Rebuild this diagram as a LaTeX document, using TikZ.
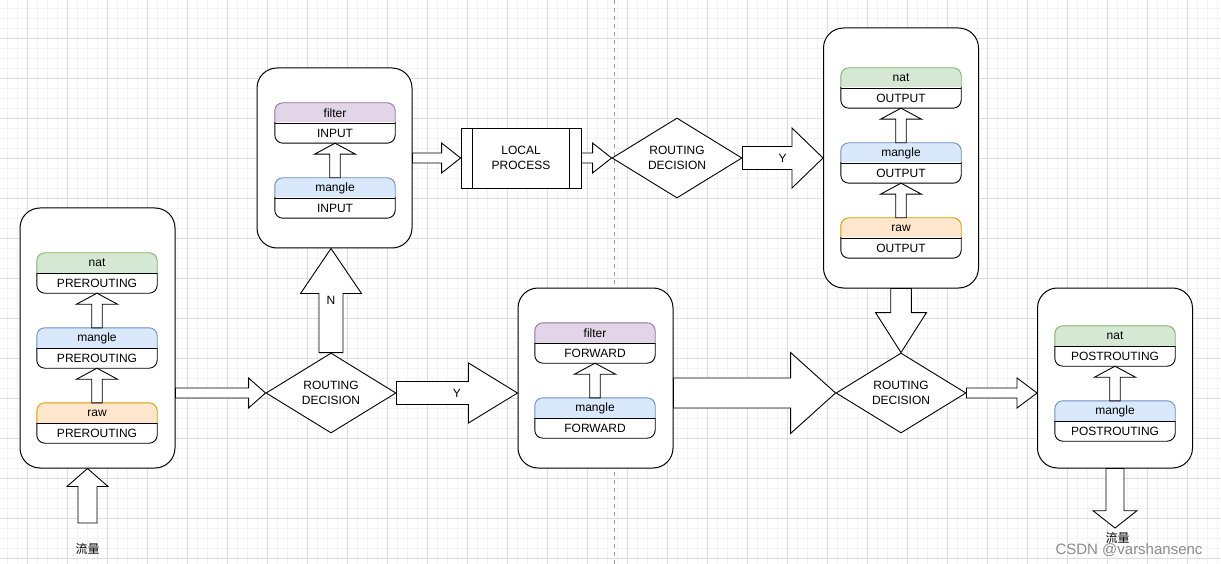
\documentclass[tikz,border=0pt]{standalone}
\usepackage{fontspec}
\setmainfont{Liberation Sans}
\newfontfamily\cjkfont{Noto Sans CJK SC}
\usetikzlibrary{calc,shapes.geometric}
\definecolor{gridminor}{HTML}{F3F3F3}
\definecolor{gridmajor}{HTML}{DDDDDD}
\definecolor{natfill}{HTML}{D5E8D4}\definecolor{natline}{HTML}{82B366}
\definecolor{manfill}{HTML}{DAE8FC}\definecolor{manline}{HTML}{6C8EBF}
\definecolor{rawfill}{HTML}{FFE6CC}\definecolor{rawline}{HTML}{D79B00}
\definecolor{filfill}{HTML}{E1D5E7}\definecolor{filline}{HTML}{9673A6}

\tikzset{
 every node/.style={font=\fontsize{12}{15}\selectfont, text=black},
 hostbox/.style={draw, fill=white, rounded corners=20pt, line width=1pt, minimum width=155pt, inner sep=0pt},
 decbox/.style={diamond, draw, fill=white, aspect=1.625, minimum width=130pt, minimum height=80pt, inner sep=0pt, align=center, line width=0.9pt},
 procbox/.style={draw, fill=white, minimum width=120pt, minimum height=60pt, inner sep=0pt, align=center, line width=0.9pt},
 blk/.style={draw=black, fill=white, line width=0.9pt, line join=miter},
 tblnode/.style={minimum width=120pt, minimum height=40pt, inner sep=0pt},
 trafficlabel/.style={font=\cjkfont\fontsize{12}{15}\selectfont, inner sep=0pt, text height=10.5pt, text depth=0.5pt, anchor=base},
}

% block arrow: #1 start, #2 tip, #3 half shaft, #4 half head, #5 head length
\newcommand\barrow[5]{%
  \coordinate (hb) at ($#2!#5!#1$);
  \draw[blk] ($#1!#3!90:#2$) -- ($(hb)!#3!90:#2$) -- ($(hb)!#4!90:#2$) -- #2
    -- ($(hb)!#4!-90:#2$) -- ($(hb)!#3!-90:#2$) -- ($#1!#3!-90:#2$) -- cycle;
}

% chain table: #1 name, #2 x, #3 top y, #4 header, #5 body, #6 colour prefix
\newcommand\chaintbl[6]{%
  \node[tblnode] (#1) at (#2,#3+20) {};
  \begin{scope}
    \clip ([xshift=-2pt,yshift=2pt]#1.north west) rectangle ([xshift=2pt]#1.east);
    \draw[fill=#6fill, draw=#6line, line width=0.9pt, rounded corners=8pt] (#1.south west) rectangle (#1.north east);
  \end{scope}
  \begin{scope}
    \clip ([xshift=-2pt,yshift=-2pt]#1.south west) rectangle ([xshift=2pt]#1.east);
    \draw[fill=white, line width=0.9pt, rounded corners=8pt] (#1.south west) rectangle (#1.north east);
  \end{scope}
  \draw[line width=0.9pt] (#1.west) -- (#1.east);
  \node (#1h) at ($(#1.north)!0.5!(#1.center)$) {#4};
  \node (#1b) at ($(#1.south)!0.5!(#1.center)$) {#5};
}

\begin{document}
\begin{tikzpicture}[x=1pt,y=-1pt]
\useasboundingbox (0,0) rectangle (1221,564);
\fill[white] (0,0) rectangle (1221,564);
% grid
\foreach \i in {0,...,122} {\draw[gridminor, line width=0.7pt] (-2.5+10*\i,0) -- ++(0,564);}
\foreach \i in {0,...,56} {\draw[gridminor, line width=0.7pt] (0,-1.5+10*\i) -- ++(1221,0);}
\foreach \i in {0,...,30} {\draw[gridmajor, line width=0.8pt] (27.5+40*\i,0) -- ++(0,564);}
\foreach \i in {0,...,13} {\draw[gridmajor, line width=0.8pt] (0,38.5+40*\i) -- ++(1221,0);}
\draw[black!40, dash pattern=on 4pt off 4pt, line width=0.8pt] (614,0) -- (614,564);

% host boxes
\node[hostbox, minimum height=260pt] (pre) at (97.5,338) {};
\node[hostbox, minimum height=180pt] (inp) at (334.5,158) {};
\node[hostbox, minimum height=180pt] (fwd) at (595.5,378) {};
\node[hostbox, minimum height=260pt] (out) at (901,158) {};
\node[hostbox, minimum height=180pt] (post) at (1115,378) {};

% decisions and local process
\node[decbox] (d1) at (331,393) {ROUTING\\DECISION};
\node[decbox] (d2) at (677,158) {ROUTING\\DECISION};
\node[decbox] (d3) at (901,393) {ROUTING\\DECISION};
\node[procbox] (lp) at (521,158) {LOCAL\\PROCESS};
\draw[line width=0.9pt] ([xshift=12pt]lp.north west) -- ([xshift=12pt]lp.south west);
\draw[line width=0.9pt] ([xshift=-12pt]lp.north east) -- ([xshift=-12pt]lp.south east);

% chain tables
\chaintbl{pn}{97}{253}{nat}{PREROUTING}{nat}
\chaintbl{pm}{97}{328}{mangle}{PREROUTING}{man}
\chaintbl{pr}{97}{403}{raw}{PREROUTING}{raw}
\chaintbl{inf}{335}{103}{filter}{INPUT}{fil}
\chaintbl{inm}{335}{178}{mangle}{INPUT}{man}
\chaintbl{ff}{595}{323}{filter}{FORWARD}{fil}
\chaintbl{fm}{595}{398}{mangle}{FORWARD}{man}
\chaintbl{on}{901}{68}{nat}{OUTPUT}{nat}
\chaintbl{om}{901}{143}{mangle}{OUTPUT}{man}
\chaintbl{or}{901}{218}{raw}{OUTPUT}{raw}
\chaintbl{sn}{1115}{326}{nat}{POSTROUTING}{nat}
\chaintbl{sm}{1115}{401}{mangle}{POSTROUTING}{man}

% inner arrows
\barrow{(pr.north)}{(pm.south)}{5.25pt}{20.5pt}{11pt}
\barrow{(pm.north)}{(pn.south)}{5.25pt}{20.5pt}{11pt}
\barrow{(inm.north)}{(inf.south)}{5.25pt}{20.5pt}{11pt}
\barrow{(fm.north)}{(ff.south)}{5.25pt}{20.5pt}{11pt}
\barrow{(or.north)}{(om.south)}{5.25pt}{20.5pt}{11pt}
\barrow{(om.north)}{(on.south)}{5.25pt}{20.5pt}{11pt}
\barrow{(sm.north)}{(sn.south)}{5.25pt}{20.5pt}{11pt}

% flow arrows
\coordinate (inS) at (87.5,523);
\coordinate (inT) at (inS |- pre.south);
\barrow{(inS)}{(inT)}{9.5pt}{20.5pt}{18pt}
\coordinate (a1s) at (pre.east |- d1.west);
\barrow{(a1s)}{(d1.west)}{5pt}{15pt}{17pt}
\coordinate (a2t) at (d1.north |- inp.south);
\barrow{(d1.north)}{(a2t)}{12pt}{30.5pt}{45pt}
\coordinate (a3t) at (fwd.west |- d1.east);
\barrow{(d1.east)}{(a3t)}{11.5pt}{30pt}{49pt}
\barrow{(inp.east)}{(lp.west)}{5pt}{15pt}{19pt}
\barrow{(lp.east)}{(d2.west)}{5pt}{15pt}{19pt}
\barrow{(d2.east)}{(out.west)}{11.5pt}{30pt}{31pt}
\barrow{(out.south)}{(d3.north)}{10.3pt}{25.5pt}{40pt}
\coordinate (a9s) at (fwd.east |- d3.west);
\barrow{(a9s)}{(d3.west)}{15pt}{40.5pt}{45pt}
\coordinate (a10t) at (post.west |- d3.east);
\barrow{(d3.east)}{(a10t)}{5pt}{15pt}{20pt}
\coordinate (outT) at (1115,528);
\barrow{(post.south)}{(outT)}{9pt}{22pt}{17.3pt}

% labels
\node (lN) at ($(d1.north)!0.5!(a2t)$) {N};
\node (lY1) at ($(d1.east)!0.5!(a3t)$) {Y};
\node (lY2) at ($(d2.east)!0.5!(out.west)$) {Y};
\node[trafficlabel] (tin) at (87.5,553) {流量};
\node[trafficlabel] (tout) at (1117.5,542.5) {流量};
\node[text=black!45, font=\fontsize{15}{18}\selectfont, inner sep=0pt, text height=10.8pt, text depth=0pt, anchor=base] (wm) at (1129,554.5) {CSDN @varshansenc};
\end{tikzpicture}
\end{document}
